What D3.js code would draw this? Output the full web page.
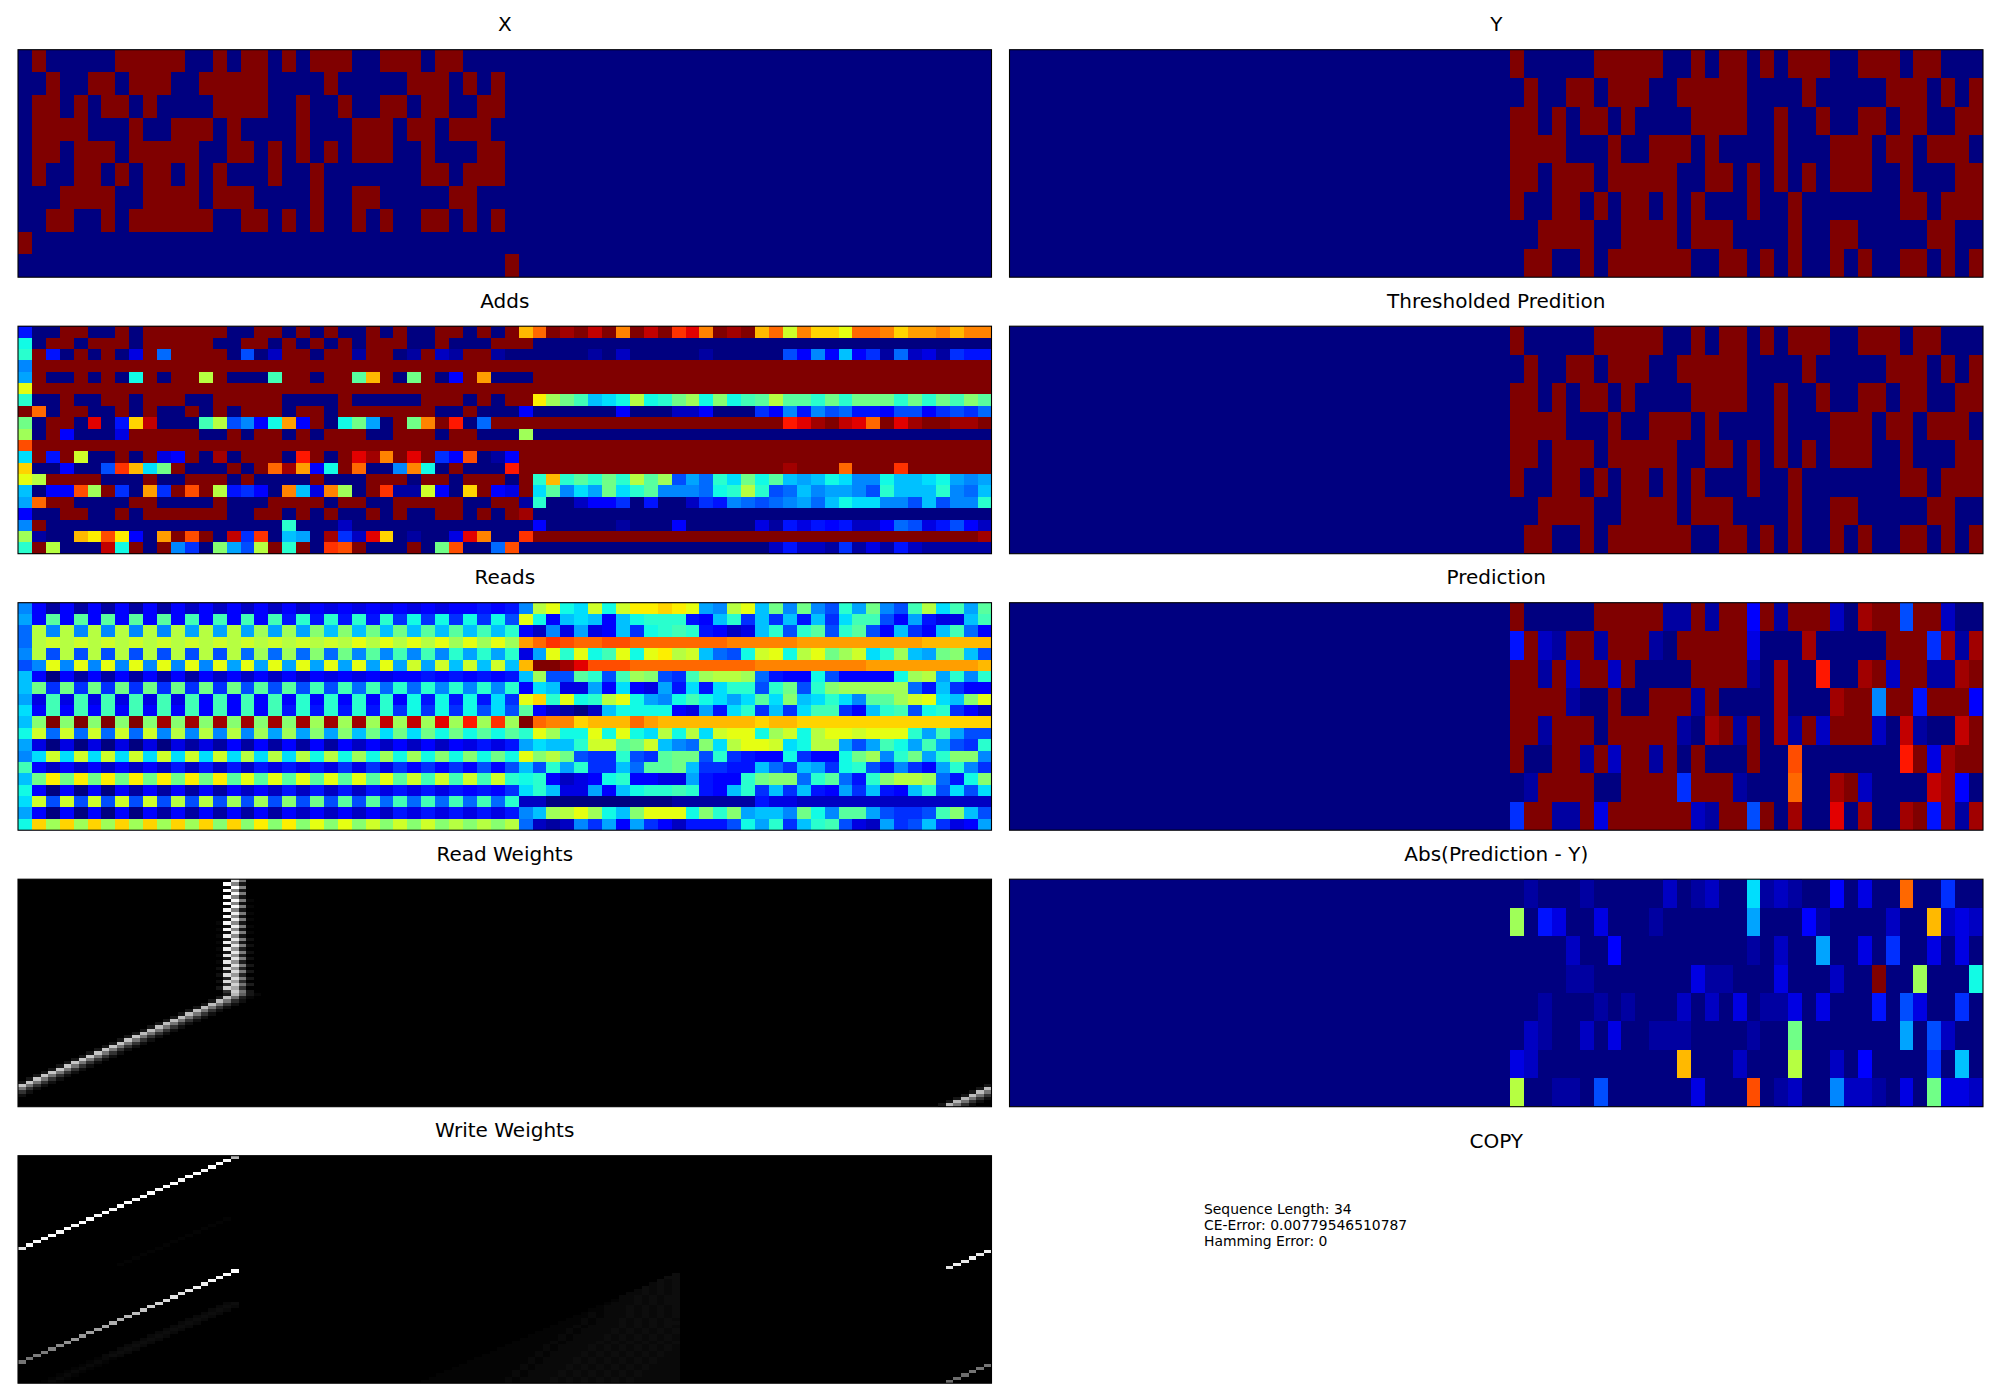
<!DOCTYPE html>
<html>
<head>
<meta charset="utf-8">
<script src="https://cdn.jsdelivr.net/npm/d3@7.9.0/dist/d3.min.js"></script>
<style>
  body { margin: 0; background: #fff; }
  svg { display: block; font-family: "DejaVu Sans", sans-serif; }
  rect.cell { shape-rendering: crispEdges; }
</style>
</head>
<body>
<div id="chart"></div>
<script>
// All matrices hold one base-36 character per cell: 0 = 0.0, z = 1.0. Spaces are only for reading.
const seqBits = [
  '1000001111100101101011100111011000',
  '0100110111001111100001000001110101',
  '1101011010000111100100100110110011',
  '1111000100111010000100011101101110',
  '1101110111110011010101011100100011',
  '1001101011010100010010000000110111',
  '0011110011110111000010011000001100',
  '0110010111111001101010010100110101',
];

const predictionRows = [
  'z0000 0zzzzz 11z1zz 4z1zzz 20yzz7 zz200',
  '5z21z z1zzz1 0zzzzz 3000y0 0000zz z6y1y',
  'zz1z2 zz2z00 00zzzz 10y00v 00yz2z z11yz',
  'zzzz1 00z00z zz1z00 00y000 yzz9zz 5zzz4',
  'zz1zz z0zzzz z10yz1 z0y1z2 zzz20x 100xz',
  'z00zz 1z2zz1 z0z000 z00t00 00000v z3yzz',
  '01zzz z00zzz z6zzz1 000s00 yz2000 0xy40',
  '6zz11 z3zzzz zz21zz 7z0y00 w0y00y z5y1y',
];

const errorRows = [
  '01000 100000 201200 c12100 40300s 00600',
  'j0530 030001 000000 a00041 000020 0p232',
  '00002 004000 000000 10200a 003060 03030',
  '00001 100000 003110 003000 200z00 j000d',
  '00100 010100 020203 011303 000507 30060',
  '02100 203001 110000 100h00 00000a 07200',
  '32000 000000 0p0002 000k00 204000 060b0',
  'k0011 070000 003000 t01200 922103 0h332',
];

const addRows = [
  '5 00 zz 00 z 0 zzzzzz 00 zz 0 z 0 z 00 z 0 z 00 zz 0 z 0 z p s z y z x z r z x z u w r z y z p s l r o o m s s r o q q r p r r',
  'd 0 zz 0 zzz 0 zzzzz 00 zz 0 z 0 z 0 z 0 zzz 00 z 000 zz z 0000000000 0000000000 0000000000 000',
  'e z 5 0 z 0 z 0 3 z 8 zzzz 0 7 0 2 zz 0 zz 1 zz 0 1 z 2 1 zz 1 0 00000 1 0 2 00000 1 00000 7 4 9 4 b 4 6 1 8 2 3 1 6 5 5',
  '9 zzzzzzzzzz zzzzzzzzzz zzzzzzzzzz zzzzz zzzzzzzzzz zzzzzzzzzz zzzzzzzzzz zzzz',
  'a z 00 z 0 z 0 d z 0 zz k z 000 f zz 0 zz g p z 0 h z 0 4 z q 00 0 zzzzzzzzzz zzzzzzzzzz zzzzzzzzzz zzz',
  'm zzzzzzzzzz zzzzzzzzzz zzzzzzzzzz zzzzz zzzzzzzzzz zzzzzzzzzz zzzzzzzzzz zzzz',
  'e 00 z 00 zz 0 zzz 00 zzzzz 0000 z 00000 zzz 0 z 0 z z n j h f b c d k d e h j d i d f g k g g e h e h h h e h e h f i g',
  'z s 0 zz 00 z 0 z 00 z 0 z 0 zzz 0 zz 0 zzzzzzz 00 z 000 4 000000 4 000 22 4 000 6 4 9 5 9 7 8 5 5 4 7 7 4 6 7 6 8',
  'h 0 zz 0 w 0 5 o x 000 f k 7 9 4 d q 4 z 0 d h a 0 z h r z v 0 8 zz zzzzzzzzzz zzzzzzzzz v w y z x w s z w y z z y y z',
  'j 0 z 4 000 3 zzzzz 00 z 0 zz 0 z 0 zzz 00 zzz 0 zz 000 j 0000000000 0000000000 0000000000 000',
  't zzzzzzzzzz zzzzzzzzzz zzzzzzzzzz zzzzz zzzzzzzzzz zzzzzzzzzz zzzzzzzzzz zzzz',
  'c z 5 z l 00 z 0 z 3 4 z 0 y 0 zzz 0 v z 0 z w y r z w z 6 4 t 0 1 4 zzzzzzzzzz zzzzzzzzzz zzzzzzzzzz zzzz',
  'o 00 4 00 7 u p c h z 000 z 0 z s y q 4 d z s 00 9 r d 0 z 000 v zzzzzzzzzz zzzzzzzzz y zzz s zzz u zzzzzz',
  'm k zzzz 000 z 00 zzz 0 z 0000 z 000 zzz 0 zz 0 zzz 0 z e p e g e h e k g j 7 a 8 e c h d g b a b d c 9 9 d b b c d a 9 a',
  'b 0 4 4 t j z 6 0 q 6 z t z k 5 6 4 0 r b 3 r j 0 z u 1 1 l 4 0 o z 4 3 z c g 9 c a h c e g 9 9 9 8 d e k e 7 8 b 9 a a 9 7 e b b b e 9 8 b',
  'a s zz 0000 zz 0000 z 000 zzzz 0 zz 00 zzzzz 00 zz 1 e 00 2 4 4 6 0 5 00 2 6 5 9 8 7 8 9 a 8 b d c c 9 9 7 b 7 9 9 e',
  '4 00 zz 00 z 0 zzzzzz 00 zz 0 z 0 z 00 z 0 z 00 zz 0 z 0 z y 0000000000 0000000000 0000000000 000',
  '9 z 0000000000 0000000 e 000 2 0000000000 00 0 4 00000 1 000 4 00000 3 1 5 3 5 4 5 2 2 4 8 7 3 5 7 4 2',
  'j 1 00 p n t n 4 0 q z t z 0 x 6 u 0 b a 0 y 6 2 w o 0 1 00 3 w r 00 u zzzzzzzzzz zzzzzzzzzz zzzzzzzzzz zz y',
  'e z k 000 x d z 0 z 9 6 0 i a 7 k z e z 0 u t z 000 z 0 h t 00 8 t 0000000000 00000000 2 5 2 2 1 6 1 3 1 5 2 1 1 1 1 1',
];

const readRows = [
  '9 41 41 41 41 41 42 42 42 42 42 43 43 43 43 43 44 54 5 9 k m d c l d l n n o n m a 9 k m b h 9 h 9 7 e a h 9 7 f k c f a g',
  'a 4g 4g 4g 4g 4g 4f 4f 4f 4f 5e 5e 5e 5e 6d 6d 6d 6d 7 m d 4 b c b 4 b d e e e 5 4 b e 6 b 6 b 5 b 6 c f f 7 4 a 5 3 3 b f',
  '8 k9 k9 k9 k9 k9 ka ka ka ja ja ib ib hb hb gb gb fb e 4 2 9 3 a 3 4 b 6 d e f e 5 4 2 3 b e 7 e g 7 e g 7 4 b 6 4 b f 8 4',
  '8 kl kl kl kl kl kl kl kl kl kl kl km km km km jm jm j q s u t s s t t s s s s s s s r r r r r q q q q q q q q q p p p p p',
  '9 k7 k7 k7 k7 k7 k7 k7 k8 j8 j8 i8 h9 g9 f9 f9 ea ea e 3 a m e m d f m d m n k l b 8 7 d l m d k m h j l c e j b a h i b 7',
  '7 9m 9m 9m 9m 9m 9m 9m am am am am am am al al bl bl b p z z y w t t t s s s s s s s s s r r r r r r r r q q q q q q q q p',
  'b 40 41 41 41 41 41 42 42 42 42 43 43 43 44 54 54 54 5 b j 7 7 g e 7 f j i 7 6 f j k k j 8 5 4 4 d 7 4 4 4 4 d j k a e 9 e',
  'b h6 h6 h6 h6 h6 h6 h6 h7 g7 g7 f7 f8 f8 e8 e9 e9 e9 e 4 c b 3 3 a 4 c 4 3 a 5 c 5 c e e 7 e h 7 e i j j j j j 8 5 b 6 4 4',
  'a 3f 3f 3f 3f 3f 3f 4f 4f 4f 4e 4e 4e 4e 4d 5d 5d 5c 6 m o e m d e k m d a 9 d f d c a c g c i b c e c 9 g g j l m c b i m',
  'c 4f 4f 4f 4f 4f 4f 4f 4f 4f 5e 5e 5e 5e 6d 6d 6d 7c 7 g 4 2 1 0 2 b d d d d 4 3 a 5 c e 6 b 6 c f f 6 4 b e f 7 d e 6 4 2',
  'b iz iz iz iz iy iy iy iy iy iy jy jy jx jx jw jv ju j z s r r o p p p s q p p p p p p p o p p o o o o o o o o o o o o o o',
  'd l8 l8 l8 l8 l9 k9 k9 k9 ja ja ia ib hc hc hd hd gd g e m j d d m d m d c k d k c l m m d j l d k m m l m m m e a f a 7 7',
  'a 30 30 30 30 30 31 31 41 41 41 41 42 42 42 42 43 53 5 a c b b e l l g h l b 9 8 i c k m m l c d k k a 7 a f d a f a 7 6 e',
  '9 cl cl cl cl cl cl cl ck ck ck dk dj dj dj di di dh d m i k h 7 6 6 e 7 6 g h h 7 e 6 5 4 4 d 6 4 4 d h j 9 e h a e i i 9',
  'f 42 42 42 42 42 52 52 52 53 53 53 63 63 64 64 64 74 7 b 7 e a e 6 6 b 8 g g h b 6 6 5 5 b 8 6 b a 6 d e 7 5 9 6 4 a e 9 6',
  'b hn hn hn hn hn hn hn gm gm gm gm gm gm gl fl fl fl e d e 4 2 3 4 d e 4 4 3 3 a 5 4 4 e h i i 8 e g 8 5 e i k k j 8 5 d i',
  'd 40 40 40 41 41 41 41 42 42 52 52 52 53 53 53 54 54 6 c e b 3 3 a 4 b d e e f e 5 4 b e 6 b 6 b 5 4 a 6 b 5 4 b e 7 c 7 c',
  'c l7 l7 l7 l7 l7 k7 k7 j7 j7 i7 h7 g7 g8 f8 f8 f8 f8 e 2 2 000000000 111111 5 3 3 2222222222 2222',
  'a 40 40 40 40 41 41 41 41 41 42 42 42 42 53 53 53 53 5 9 b j k m j d b i m m m d i e i a b b 9 h d 9 g g a 7 6 6 7 f i b 7',
  'd oj oj oj oj oj oj oi oi ni ni mi mi li li li ki ki k 8 2 1 2 9 6 a 4 a 6 4 2 5 5 5 7 d a e 6 b e f 7 3 2 a 6 7 b 6 3 4 a',
];

// Read Weights: one [first column, levels] per row, top to bottom; columns wrap at 128
const readWeightRuns = [
  [26, '00wg0'], [26, '0zi30'], [26, '01zi0'], [26, '0zi30'], [26, '01yh0'], [26, '0zi30'], [26, '01yh1'],
  [26, '0zi20'], [26, '01yh1'], [26, '0yi30'], [26, '01xh1'], [26, '0yj30'], [26, '02xh1'], [26, '1yj30'],
  [26, '02xh1'], [26, '1yj30'], [26, '02wh1'], [26, '1xj30'], [26, '03wh2'], [26, '1xj30'], [26, '03wh2'],
  [26, '1xk40'], [26, '03wh2'], [26, '1wk40'], [26, '03vh2'], [26, '1wk40'], [26, '04vh3'], [26, '2vl50'],
  [26, '04uh3'], [26, '2vl50'], [26, '05uh3'], [26, '2um60'], [26, '06tg4'], [26, '3tn70'], [26, '07sg3'],
  [27, '3pd31'], [26, '3qf41'], [25, '3qg62'], [24, '3qg72'], [23, '3qg72'], [22, '3qg72'], [21, '3qg72'],
  [20, '3qg72'], [19, '3qg72'], [18, '3qg72'], [17, '3qg72'], [16, '3qg72'], [15, '3qg72'], [14, '3rg72'],
  [13, '3rg72'], [12, '3rg72'], [11, '3rg72'], [10, '3rg72'], [9, '3rg72'], [8, '3rg72'], [7, '3rg72'],
  [6, '3rg72'], [5, '3rg72'], [4, '3rg72'], [3, '3rg72'], [2, '3rg72'], [1, '3rg72'], [0, '3rg72'],
  [127, '3rg72'], [126, '3qg72'], [125, '3qg72'], [124, '3qg72'], [123, '3pg72'], [122, '3pg72'], [121, '3pg72'],
];

// Write Weights: the two bright head traces, same column per row in each
const writeHeadCols = [28, 27, 26, 25, 24, 23, 22, 21, 20, 19, 18, 17, 16, 15, 14, 13, 12, 11, 10, 9, 8, 7, 6, 5, 4, 3, 2, 1, 0, 127, 126, 125, 124, 123, 122];
const writeUpperLevels = 'pyzzyzzyzzyzzyzzyzyzzyzyzyyyvxwxwxv';
const writeLowerLevels = 'zzyyxxwvvutsrqpoonmmllkjihhgggggfffe';

// Faint leftovers in Write Weights: [row, first column, levels], dimmed by writeFaintScale
const writeFaintBands = [
  [19, 27, '1'], [20, 26, '1'], [21, 25, '1'], [22, 24, '1'], [23, 23, '1'], [24, 22, '1'], [25, 21, '1'],
  [26, 20, '1'], [27, 19, '1'], [28, 18, '1'], [29, 17, '1'], [30, 16, '1'], [31, 15, '1'], [32, 14, '1'], [33, 13, '1'],
  [45, 27, '23'], [46, 26, '232'], [47, 25, '232'], [48, 24, '232'], [49, 23, '232'], [50, 22, '232'], [51, 21, '232'], [52, 20, '232'],
  [53, 19, '232'], [54, 18, '232'], [55, 17, '232'], [56, 16, '232'], [57, 15, '232'], [58, 14, '232'], [59, 13, '232'], [60, 12, '232'],
  [61, 11, '232'], [62, 10, '121'], [63, 9, '121'], [64, 8, '121'], [65, 7, '121'], [66, 6, '121'], [67, 5, '121'], [68, 4, '121'], [69, 3, '121'],
];
const writeFaintScale = 0.6;

// The faint triangle in Write Weights, rows 36 to 69, every row ends at column 86
const writeTriangleRows = [
  '3', '33', '323', '2323', '32323', '232323', '2232323', '22323233', '122323233', '1222323233',
  '12223232323', '112223232323', '1212223232323', '11212223232323', '112122232323232',
  '1112122232323233', '11121222232323232', '111212222323232323', '1111212222323232323',
  '11112122223232323232', '111112122223232323232', '1111121222232323232323',
  '11111212222323232323232', '111111212222323232323232', '1111112122223232323232322',
  '11111112122223232323232322', '111111121222232323232323222', '1111111121222232323232323222',
  '11111111212222323232323232222', '111111111212222323232323232222', '1111111112122223232323232322222',
  '11111111112122223232323232322222', '111111111121222232323232323222222', '1111111111121222232323232323222222',
];

const infoLines = ['Sequence Length: 34', 'CE-Error: 0.00779546510787', 'Hamming Error: 0'];

const width = 2000;
const height = 1400;
const leftColumn = [18, 991.5];
const rightColumn = [1009.5, 1983];
const rowTops = [49.7, 326.2, 602.7, 879.2, 1155.7];
const panelHeight = 227.5;

const parseLevels = (s) => Array.from(s.replace(/ /g, ''), (c) => parseInt(c, 36) / 35);

// matplotlib's jet, channel by channel
const jetR = d3.scaleLinear().domain([0, 0.35, 0.66, 0.89, 1]).range([0, 0, 255, 255, 128]);
const jetG = d3.scaleLinear().domain([0, 0.125, 0.375, 0.64, 0.91, 1]).range([0, 0, 255, 255, 0, 0]);
const jetB = d3.scaleLinear().domain([0, 0.11, 0.34, 0.65, 1]).range([128, 255, 255, 0, 0]);
const jet = (v) => d3.rgb(jetR(v), jetG(v), jetB(v)).formatRgb();
const gray = d3.scaleLinear().domain([0, 1]).range(['#000000', '#ffffff']);

const svg = d3.select('#chart').append('svg').attr('width', width).attr('height', height);

function drawPanel(title, column, top, cells, nCols, nRows, colour) {
  const x = d3.scaleBand().domain(d3.range(nCols)).range(column);
  const y = d3.scaleBand().domain(d3.range(nRows)).range([top, top + panelHeight]);
  const g = svg.append('g');

  g.append('rect')
    .attr('x', column[0])
    .attr('y', top)
    .attr('width', column[1] - column[0])
    .attr('height', panelHeight)
    .attr('fill', colour(0));

  g.selectAll('rect.cell')
    .data(cells.filter((d) => d.value > 0))
    .join('rect')
    .attr('class', 'cell')
    .attr('x', (d) => x(d.col))
    .attr('y', (d) => y(d.row))
    .attr('width', x.bandwidth())
    .attr('height', y.bandwidth())
    .attr('fill', (d) => colour(d.value));

  g.append('rect')
    .attr('x', column[0])
    .attr('y', top)
    .attr('width', column[1] - column[0])
    .attr('height', panelHeight)
    .attr('fill', 'none')
    .attr('stroke', '#000')
    .attr('stroke-width', 1.1);

  svg.append('text')
    .attr('x', (column[0] + column[1]) / 2)
    .attr('y', top - 18.6)
    .attr('text-anchor', 'middle')
    .attr('font-size', 20)
    .text(title);
}

// Turn rows of levels into cells, the whole row starting at column `first`
function matrixCells(rows, first = 0) {
  return rows.flatMap((levels, row) =>
    levels.map((value, i) => ({ row, col: first + i, value })),
  );
}

const bits = seqBits.map((s) => Array.from(s, Number));
const inputCells = matrixCells(bits, 1).concat([
  { row: 8, col: 0, value: 1 },
  { row: 9, col: 35, value: 1 },
]);
const targetCells = matrixCells(bits, 36);

const readCells = readWeightRuns.flatMap(([col, levels], row) =>
  parseLevels(levels).map((value, i) => ({ row, col: (col + i) % 128, value })),
);

const writeCells = [
  ...writeTriangleRows.flatMap((s, i) =>
    parseLevels(s).map((value, j) => ({ row: 36 + i, col: 86 - s.length + 1 + j, value: value * writeFaintScale })),
  ),
  ...writeFaintBands.flatMap(([row, col, levels]) =>
    parseLevels(levels).map((value, i) => ({ row, col: (col + i) % 128, value: value * writeFaintScale })),
  ),
  ...writeHeadCols.map((col, i) => ({ row: i, col, value: parseLevels(writeUpperLevels)[i] })),
  ...writeHeadCols.map((col, i) => ({ row: 35 + i, col, value: parseLevels(writeLowerLevels)[i] })),
];

drawPanel('X', leftColumn, rowTops[0], inputCells, 70, 10, jet);
drawPanel('Y', rightColumn, rowTops[0], targetCells, 70, 8, jet);
drawPanel('Adds', leftColumn, rowTops[1], matrixCells(addRows.map(parseLevels)), 70, 20, jet);
drawPanel('Thresholded Predition', rightColumn, rowTops[1], targetCells, 70, 8, jet);
drawPanel('Reads', leftColumn, rowTops[2], matrixCells(readRows.map(parseLevels)), 70, 20, jet);
drawPanel('Prediction', rightColumn, rowTops[2], matrixCells(predictionRows.map(parseLevels), 36), 70, 8, jet);
drawPanel('Read Weights', leftColumn, rowTops[3], readCells, 128, 70, gray);
drawPanel('Abs(Prediction - Y)', rightColumn, rowTops[3], matrixCells(errorRows.map(parseLevels), 36), 70, 8, jet);
drawPanel('Write Weights', leftColumn, rowTops[4], writeCells, 128, 70, gray);

svg.append('text')
  .attr('x', (rightColumn[0] + rightColumn[1]) / 2)
  .attr('y', 1148)
  .attr('text-anchor', 'middle')
  .attr('font-size', 20)
  .text('COPY');

svg.append('g')
  .selectAll('text')
  .data(infoLines)
  .join('text')
  .attr('x', 1204)
  .attr('y', (d, i) => 1214 + i * 16)
  .attr('font-size', 13.9)
  .text((d) => d);
</script>
</body>
</html>
